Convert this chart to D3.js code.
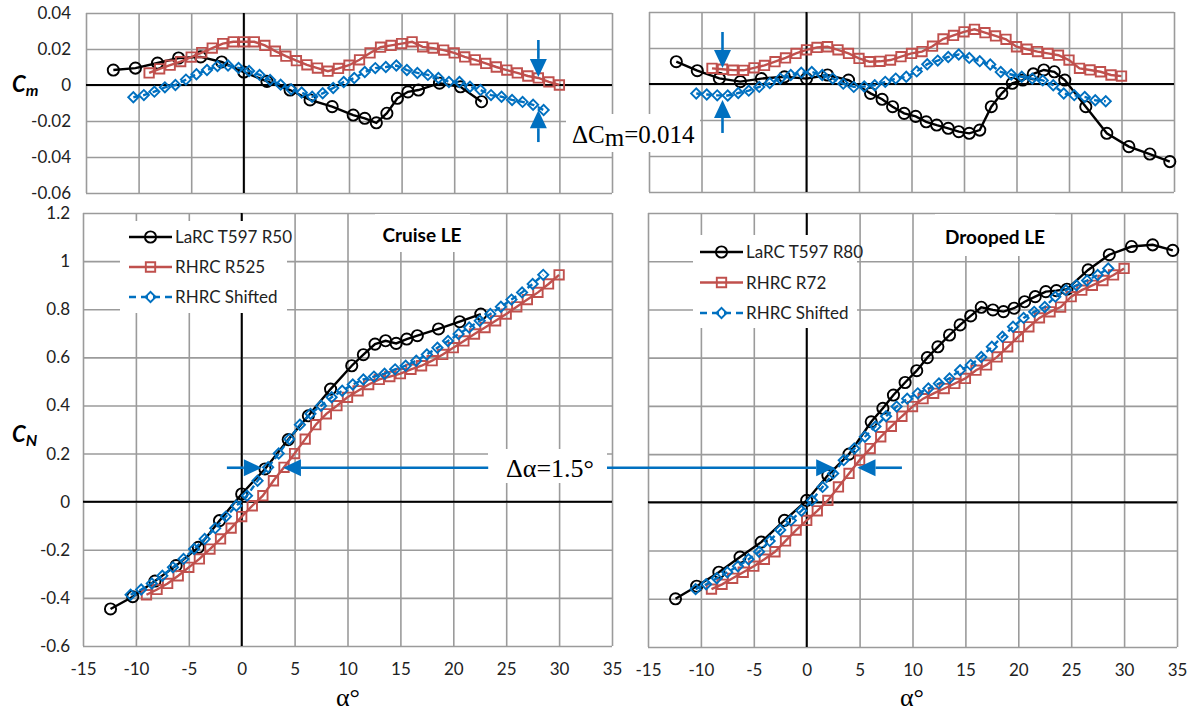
<!DOCTYPE html>
<html><head><meta charset="utf-8">
<script src="https://cdn.jsdelivr.net/npm/d3@7/dist/d3.min.js"></script>
<style>body{margin:0;background:#fff}svg{display:block}</style>
</head><body>
<svg id="c" width="1188" height="711"></svg>
<script>
// ---------------- DATA ----------------
const xTicks = [-15,-10,-5,0,5,10,15,20,25,30,35];
const cmTicks = [-0.06,-0.04,-0.02,0,0.02,0.04];
const cnTicks = [-0.6,-0.4,-0.2,0,0.2,0.4,0.6,0.8,1,1.2];
const namesCruise = ["LaRC T597 R50","RHRC R525","RHRC Shifted"];
const namesDroop  = ["LaRC T597 R80","RHRC R72","RHRC Shifted"];

// Cruise LE: LaRC T597 R50
const alphaR50 = [-12.4,-10.3,-8.2,-6.2,-4.1,-2.1,0,2.2,4.4,6.3,8.4,10.4,11.5,12.6,13.6,14.6,15.6,16.6,18.6,20.6,22.6];
const cmR50 = [0.0083,0.0094,0.0122,0.0150,0.0156,0.0128,0.0072,0.0020,-0.0028,-0.0083,-0.0120,-0.0167,-0.0185,-0.0210,-0.0157,-0.0074,-0.0038,-0.0028,0.0010,-0.0010,-0.0093];
const cnR50 = [-0.446,-0.395,-0.330,-0.266,-0.190,-0.079,0.032,0.136,0.258,0.357,0.468,0.565,0.611,0.655,0.669,0.658,0.676,0.690,0.718,0.748,0.780];

// Cruise LE: RHRC R525
const alphaR525 = [-9,-8,-7,-6,-5,-4,-3,-2,-1,0,1,2,3,4,5,6,7,8,9,10,11,12,13,14,15,16,17,18,19,20,21,22,23,24,25,26,27,28,29,30];
const cmR525 = [0.0067,0.0090,0.0110,0.0130,0.0155,0.0180,0.0205,0.0230,0.0240,0.0240,0.0240,0.0220,0.0188,0.0160,0.0135,0.0112,0.0094,0.0077,0.0092,0.0110,0.0140,0.0178,0.0210,0.0220,0.0230,0.0240,0.0212,0.0205,0.0194,0.0178,0.0156,0.0140,0.0120,0.0100,0.0083,0.0067,0.0050,0.0039,0.0017,0.0000];
const cnR525 = [-0.387,-0.365,-0.340,-0.308,-0.273,-0.238,-0.197,-0.155,-0.110,-0.062,-0.017,0.025,0.087,0.143,0.200,0.260,0.320,0.365,0.399,0.434,0.461,0.487,0.508,0.520,0.532,0.550,0.565,0.586,0.612,0.640,0.668,0.697,0.724,0.752,0.780,0.810,0.840,0.870,0.905,0.943];

// Cruise LE: RHRC Shifted
const alphaS1 = [-10.5,-9.5,-8.5,-7.5,-6.5,-5.5,-4.5,-3.5,-2.5,-1.5,-0.5,0.5,1.5,2.5,3.5,4.5,5.5,6.5,7.5,8.5,9.5,10.5,11.5,12.5,13.5,14.5,15.5,16.5,17.5,18.5,19.5,20.5,21.5,22.5,23.5,24.5,25.5,26.5,27.5,28.5];
const cmS1 = [-0.0068,-0.0056,-0.0037,-0.0013,0.0000,0.0030,0.0060,0.0083,0.0105,0.0108,0.0095,0.0078,0.0056,0.0028,0.0002,-0.0024,-0.0042,-0.0065,-0.0046,-0.0017,0.0017,0.0039,0.0072,0.0094,0.0100,0.0108,0.0083,0.0067,0.0056,0.0039,0.0017,0.0017,-0.0010,-0.0028,-0.0056,-0.0065,-0.0083,-0.0094,-0.0110,-0.0139];
const cnS1 = [-0.387,-0.365,-0.340,-0.308,-0.273,-0.238,-0.197,-0.155,-0.110,-0.062,-0.017,0.025,0.087,0.143,0.200,0.260,0.320,0.365,0.399,0.434,0.461,0.487,0.508,0.520,0.532,0.550,0.565,0.586,0.612,0.640,0.668,0.697,0.724,0.752,0.780,0.810,0.840,0.870,0.905,0.943];

// Drooped LE: LaRC T597 R80
const alphaR80 = [-12.4,-10.4,-8.3,-6.3,-4.3,-2.1,0,2,4,6.1,7.2,8.2,9.3,10.4,11.4,12.4,13.5,14.5,15.5,16.5,17.6,18.6,19.6,20.6,21.6,22.6,23.6,24.6,26.6,28.6,30.7,32.7,34.6];
const cmR80 = [0.0124,0.0074,0.0031,0.0013,0.0030,0.0040,0.0030,0.0050,0.0022,-0.0052,-0.0085,-0.0126,-0.0163,-0.0180,-0.0210,-0.0228,-0.0246,-0.0265,-0.0274,-0.0256,-0.0126,-0.0052,0.0004,0.0022,0.0056,0.0078,0.0068,0.0022,-0.0126,-0.0274,-0.0348,-0.0389,-0.0431];
const cnR80 = [-0.400,-0.348,-0.290,-0.227,-0.165,-0.075,0.008,0.112,0.200,0.334,0.390,0.445,0.497,0.546,0.600,0.645,0.694,0.736,0.773,0.809,0.798,0.791,0.805,0.832,0.853,0.874,0.878,0.884,0.964,1.027,1.061,1.068,1.045];

// Drooped LE: RHRC R72
const alphaR72 = [-9,-8,-7,-6,-5,-4,-3,-2,-1,0,1,2,3,4,5,6,7,8,9,10,11,12,13,14,15,16,17,18,19,20,21,22,23,24,25,26,27,28,29,30];
const cmR72 = [0.0087,0.0082,0.0077,0.0076,0.0090,0.0103,0.0124,0.0145,0.0170,0.0190,0.0203,0.0207,0.0190,0.0170,0.0142,0.0124,0.0126,0.0133,0.0152,0.0170,0.0180,0.0210,0.0250,0.0270,0.0290,0.0304,0.0285,0.0267,0.0248,0.0207,0.0193,0.0180,0.0170,0.0160,0.0133,0.0087,0.0078,0.0068,0.0050,0.0044];
const cnR72 = [-0.360,-0.340,-0.315,-0.290,-0.265,-0.236,-0.205,-0.160,-0.115,-0.075,-0.035,0.008,0.064,0.120,0.175,0.223,0.272,0.315,0.357,0.397,0.430,0.452,0.472,0.493,0.514,0.548,0.570,0.603,0.645,0.687,0.728,0.765,0.790,0.810,0.853,0.880,0.900,0.920,0.943,0.970];

// Drooped LE: RHRC Shifted
const alphaS2 = [-10.5,-9.5,-8.5,-7.5,-6.5,-5.5,-4.5,-3.5,-2.5,-1.5,-0.5,0.5,1.5,2.5,3.5,4.5,5.5,6.5,7.5,8.5,9.5,10.5,11.5,12.5,13.5,14.5,15.5,16.5,17.5,18.5,19.5,20.5,21.5,22.5,23.5,24.5,25.5,26.5,27.5,28.5];
const cmS2 = [-0.0053,-0.0058,-0.0063,-0.0064,-0.0050,-0.0037,-0.0016,0.0005,0.0030,0.0050,0.0063,0.0067,0.0050,0.0030,0.0002,-0.0016,-0.0014,-0.0007,0.0012,0.0030,0.0040,0.0070,0.0110,0.0130,0.0150,0.0164,0.0145,0.0127,0.0108,0.0067,0.0053,0.0040,0.0030,0.0020,-0.0007,-0.0053,-0.0062,-0.0072,-0.0090,-0.0096];
const cnS2 = [-0.360,-0.340,-0.315,-0.290,-0.265,-0.236,-0.205,-0.160,-0.115,-0.075,-0.035,0.008,0.064,0.120,0.175,0.223,0.272,0.315,0.357,0.397,0.430,0.452,0.472,0.493,0.514,0.548,0.570,0.603,0.645,0.687,0.728,0.765,0.790,0.810,0.853,0.880,0.900,0.920,0.943,0.970];

// ---------------- STYLE / LAYOUT ----------------
const BLACK = "#000", RED = "#C0504D", BLUE = "#0070C0", GRID = "#9b9b9b";
const FONT = "Lato, 'Open Sans', sans-serif";
const SERIF = "'Liberation Serif', 'DejaVu Serif', serif";

const svg = d3.select("#c");
svg.append("rect").attr("width",1188).attr("height",711).attr("fill","#fff");

const panels = {
  tl:{x0:86, x1:612, y0:13, y1:193, ydom:[-0.06,0.04], yt:cmTicks},
  tr:{x0:649,x1:1174,y0:12, y1:192, ydom:[-0.06,0.04], yt:cmTicks},
  bl:{x0:83, x1:612, y0:213,y1:646, ydom:[-0.6,1.2], yt:cnTicks},
  br:{x0:648,x1:1177,y0:213,y1:647, ydom:[-0.6,1.2], yt:cnTicks}
};

for (const k in panels){
  const p = panels[k];
  p.x = d3.scaleLinear().domain([-15,35]).range([p.x0,p.x1]);
  p.y = d3.scaleLinear().domain(p.ydom).range([p.y1,p.y0]);
  const g = svg.append("g");
  g.append("g").attr("transform",`translate(0,${p.y1})`)
    .call(d3.axisBottom(p.x).tickValues(xTicks).tickSize(-(p.y1-p.y0)).tickFormat(""))
    .call(s=>{s.select(".domain").remove();s.selectAll("line").attr("stroke",GRID).attr("stroke-width",1.6);});
  g.append("g").attr("transform",`translate(${p.x0},0)`)
    .call(d3.axisLeft(p.y).tickValues(p.yt).tickSize(-(p.x1-p.x0)).tickFormat(""))
    .call(s=>{s.select(".domain").remove();s.selectAll("line").attr("stroke",GRID).attr("stroke-width",1.6);});
  g.append("line").attr("x1",p.x(0)).attr("x2",p.x(0)).attr("y1",p.y0).attr("y2",p.y1).attr("stroke",BLACK).attr("stroke-width",2);
  g.append("line").attr("x1",p.x0).attr("x2",p.x1).attr("y1",p.y(0)).attr("y2",p.y(0)).attr("stroke",BLACK).attr("stroke-width",2);
}

function styleLabels(s){
  s.select(".domain").remove();
  s.selectAll("text").attr("font-family",FONT).attr("font-size",17).attr("fill","#222");
}
const fmt = d => d===0 ? "0" : String(+d.toFixed(2));
svg.append("g").attr("transform",`translate(${panels.tl.x0},0)`)
  .call(d3.axisLeft(panels.tl.y).tickValues(cmTicks).tickSize(0).tickPadding(15).tickFormat(fmt)).call(styleLabels);
svg.append("g").attr("transform",`translate(${panels.bl.x0},0)`)
  .call(d3.axisLeft(panels.bl.y).tickValues(cnTicks).tickSize(0).tickPadding(13).tickFormat(fmt)).call(styleLabels);
svg.append("g").attr("transform",`translate(0,${panels.bl.y1})`)
  .call(d3.axisBottom(panels.bl.x).tickValues(xTicks).tickSize(0).tickPadding(17).tickFormat(d=>String(d))).call(styleLabels);
svg.append("g").attr("transform",`translate(0,${panels.br.y1})`)
  .call(d3.axisBottom(panels.br.x).tickValues(xTicks).tickSize(0).tickPadding(17).tickFormat(d=>String(d))).call(styleLabels);

function cLabel(x,y,sub){
  const t = svg.append("text").attr("x",x).attr("y",y).attr("font-family",FONT)
    .attr("font-weight","bold").attr("font-style","italic").attr("font-size",22).attr("fill","#000");
  t.append("tspan").text("C");
  t.append("tspan").attr("font-size",16).attr("dy",4).text(sub);
}
cLabel(12,92,"m");
cLabel(12,442,"N");
svg.append("text").attr("x",348).attr("y",706).attr("text-anchor","middle").attr("font-family",SERIF).attr("font-size",26).text("α°");
svg.append("text").attr("x",912).attr("y",706).attr("text-anchor","middle").attr("font-family",SERIF).attr("font-size",26).text("α°");

function box(x,y,w,h){ svg.append("rect").attr("x",x).attr("y",y).attr("width",w).attr("height",h).attr("fill","#fff"); }
box(120,221,167,92);
box(693,235,164,93);
box(375,214,95,38);
box(935,214,120,42);
box(488,449,119,34);
box(566,114,134,38);

svg.append("text").attr("x",422).attr("y",242).attr("text-anchor","middle").attr("font-family",FONT).attr("font-weight","bold").attr("font-size",19).text("Cruise LE");
svg.append("text").attr("x",995).attr("y",244).attr("text-anchor","middle").attr("font-family",FONT).attr("font-weight","bold").attr("font-size",19).text("Drooped LE");

function marker(sel, type, color, cx, cy){
  if (type==="circle"){
    sel.append("circle").attr("cx",cx).attr("cy",cy).attr("r",5.6).attr("fill","none").attr("stroke",color).attr("stroke-width",1.9);
  } else if (type==="square"){
    sel.append("path").attr("d",d3.symbol(d3.symbolSquare,88)()).attr("transform",`translate(${cx},${cy})`)
      .attr("fill","none").attr("stroke",color).attr("stroke-width",1.9);
  } else {
    sel.append("path").attr("d",d3.symbol(d3.symbolSquare,52)()).attr("transform",`translate(${cx},${cy}) rotate(45)`)
      .attr("fill","none").attr("stroke",color).attr("stroke-width",1.9);
  }
}
function series(p, xs, ys, color, type, dash){
  const pts = d3.zip(xs, ys);
  const line = d3.line().x(d=>p.x(d[0])).y(d=>p.y(d[1]));
  const g = svg.append("g");
  g.append("path").datum(pts).attr("d",line).attr("fill","none").attr("stroke",color)
    .attr("stroke-width",2.4).attr("stroke-dasharray",dash||null);
  pts.forEach(d=>marker(g,type,color,p.x(d[0]),p.y(d[1])));
}
const P = panels;
series(P.tl, alphaR50, cmR50, BLACK, "circle");
series(P.tl, alphaR525, cmR525, RED, "square");
series(P.tl, alphaS1, cmS1, BLUE, "diamond", "6,4");
series(P.bl, alphaR50, cnR50, BLACK, "circle");
series(P.bl, alphaR525, cnR525, RED, "square");
series(P.bl, alphaS1, cnS1, BLUE, "diamond", "6,4");
series(P.tr, alphaR80, cmR80, BLACK, "circle");
series(P.tr, alphaR72, cmR72, RED, "square");
series(P.tr, alphaS2, cmS2, BLUE, "diamond", "6,4");
series(P.br, alphaR80, cnR80, BLACK, "circle");
series(P.br, alphaR72, cnR72, RED, "square");
series(P.br, alphaS2, cnS2, BLUE, "diamond", "6,4");

function legend(x0, y0, dy, names){
  const spec = [[BLACK,"circle",null],[RED,"square",null],[BLUE,"diamond","7,5"]];
  const g = svg.append("g");
  names.forEach((n,i)=>{
    const y = y0 + i*dy;
    g.append("line").attr("x1",x0).attr("x2",x0+43).attr("y1",y).attr("y2",y).attr("stroke",spec[i][0])
      .attr("stroke-width",2.6).attr("stroke-dasharray",spec[i][2]);
    marker(g, spec[i][1], spec[i][0], x0+21.5, y);
    g.append("text").attr("x",x0+46).attr("y",y+6).attr("font-family",FONT).attr("font-size",17).attr("fill","#222").text(n);
  });
}
legend(129, 237, 30, namesCruise);
legend(700, 252, 30.5, namesDroop);

function arrow(x1,y1,x2,y2){
  const L=18, W=17;
  const ang = Math.atan2(y2-y1,x2-x1);
  const bx = x2 - L*Math.cos(ang), by = y2 - L*Math.sin(ang);
  svg.append("line").attr("x1",x1).attr("y1",y1).attr("x2",bx).attr("y2",by).attr("stroke",BLUE).attr("stroke-width",2.6);
  const nx = -Math.sin(ang)*W/2, ny = Math.cos(ang)*W/2;
  svg.append("path").attr("d",`M${x2},${y2}L${bx+nx},${by+ny}L${bx-nx},${by-ny}Z`).attr("fill",BLUE);
}
arrow(P.tl.x(28), P.tl.y(0.025), P.tl.x(28), P.tl.y(0.0045));
arrow(P.tl.x(28), P.tl.y(-0.0317), P.tl.x(28), P.tl.y(-0.0140));
arrow(P.tr.x(-8), P.tr.y(0.0289), P.tr.x(-8), P.tr.y(0.0089));
arrow(P.tr.x(-8), P.tr.y(-0.0272), P.tr.x(-8), P.tr.y(-0.0089));
const ya = P.bl.y(0.141);
arrow(P.bl.x(-1.4), ya, P.bl.x(1.9), ya);
arrow(P.bl.x(23.3), ya, P.bl.x(3.9), ya);
arrow(607, ya, P.br.x(2.6), ya);
arrow(P.br.x(9), ya, P.br.x(4.8), ya);

svg.append("text").attr("x",550).attr("y",477).attr("text-anchor","middle").attr("font-family",SERIF).attr("font-size",26).text("Δα=1.5°");
const tc = svg.append("text").attr("x",572).attr("y",143).attr("font-family",SERIF).attr("font-size",25);
tc.append("tspan").text("ΔC");
tc.append("tspan").attr("dy",3).text("m");
tc.append("tspan").attr("dy",-3).text("=0.014");
</script>
</body></html>
